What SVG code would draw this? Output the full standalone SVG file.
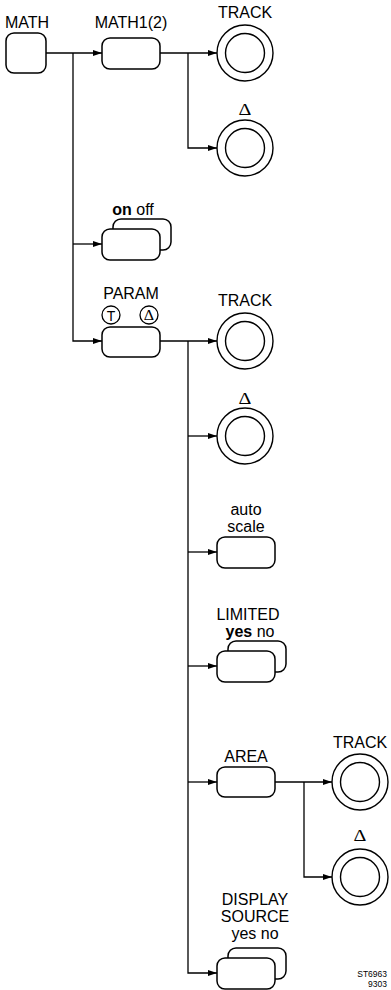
<svg xmlns="http://www.w3.org/2000/svg" width="391" height="990" viewBox="0 0 391 990">
<style>
.box{fill:#fff;stroke:#000;stroke-width:1.5}
.ring{fill:#fff;stroke:#000;stroke-width:1.4}
.con{fill:none;stroke:#000;stroke-width:1.3}
.t{font-family:"Liberation Sans",Arial,sans-serif;font-size:16px;fill:#000;text-anchor:middle}
.b{font-weight:bold}
.d{font-family:"Liberation Serif","Times New Roman",serif;font-size:16px;fill:#000;text-anchor:middle}
.s{font-family:"Liberation Sans",Arial,sans-serif;font-size:8.5px;fill:#000;text-anchor:end}
</style>
<defs>
<marker id="ah" markerUnits="userSpaceOnUse" markerWidth="9" markerHeight="6" refX="9" refY="3" orient="auto">
<path d="M0,0 L9,3 L0,6 z" fill="#000"/>
</marker>
<g id="dbl"><circle r="28" class="ring"/><circle r="19.5" class="ring"/></g>
</defs>
<rect width="391" height="990" fill="#fff"/>

<g id="connectors">
<path class="con" d="M46,53 H102" marker-end="url(#ah)"/>
<path class="con" d="M73,53 V341 H102" marker-end="url(#ah)"/>
<path class="con" d="M73,244 H102" marker-end="url(#ah)"/>
<path class="con" d="M160,53 H217" marker-end="url(#ah)"/>
<path class="con" d="M188,53 V148 H217" marker-end="url(#ah)"/>
<path class="con" d="M160,341 H217" marker-end="url(#ah)"/>
<path class="con" d="M188,341 V973 H217" marker-end="url(#ah)"/>
<path class="con" d="M188,436 H217" marker-end="url(#ah)"/>
<path class="con" d="M188,552 H217" marker-end="url(#ah)"/>
<path class="con" d="M188,666 H217" marker-end="url(#ah)"/>
<path class="con" d="M188,782 H217" marker-end="url(#ah)"/>
<path class="con" d="M275,782 H332" marker-end="url(#ah)"/>
<path class="con" d="M304,782 V877 H332" marker-end="url(#ah)"/>
</g>

<g id="math">
<text class="t" x="27" y="28">MATH</text>
<rect class="box" x="6" y="33" width="40" height="40" rx="8"/>
</g>

<g id="math12">
<text class="t" x="131" y="28">MATH1(2)</text>
<rect class="box" x="102" y="38" width="58" height="31" rx="8"/>
</g>

<g id="track1">
<text class="t" x="245" y="18">TRACK</text>
<use href="#dbl" x="245" y="53"/>
</g>

<g id="delta1">
<text class="d" transform="translate(245,115) scale(1.25,1)">Δ</text>
<use href="#dbl" x="245" y="148"/>
</g>

<g id="onoff">
<text class="t" x="133" y="215"><tspan class="b">on</tspan> off</text>
<rect class="box" x="113" y="219" width="58" height="31" rx="8"/>
<rect class="box" x="102" y="229" width="58" height="31" rx="8"/>
</g>

<g id="param">
<text class="t" x="131" y="299">PARAM</text>
<circle cx="111" cy="315" r="9" fill="#fff" stroke="#000" stroke-width="1.3"/>
<text class="t" x="111" y="320.5" style="font-size:14px">T</text>
<circle cx="149" cy="315" r="9" fill="#fff" stroke="#000" stroke-width="1.3"/>
<text class="d" transform="translate(149,320) scale(1.15,1)" style="font-size:14px">Δ</text>
<rect class="box" x="102" y="327" width="58" height="30" rx="8"/>
</g>

<g id="track2">
<text class="t" x="245" y="306">TRACK</text>
<use href="#dbl" x="245" y="341"/>
</g>

<g id="delta2">
<text class="d" transform="translate(245,404) scale(1.25,1)">Δ</text>
<use href="#dbl" x="245" y="436"/>
</g>

<g id="autoscale">
<text class="t" x="246" y="515">auto</text>
<text class="t" x="246" y="532">scale</text>
<rect class="box" x="217" y="537" width="58" height="31" rx="8"/>
</g>

<g id="limited">
<text class="t" x="248" y="620">LIMITED</text>
<text class="t" x="250" y="637"><tspan class="b">yes</tspan> no</text>
<rect class="box" x="228" y="641" width="58" height="31" rx="8"/>
<rect class="box" x="217" y="651" width="58" height="31" rx="8"/>
</g>

<g id="area">
<text class="t" x="246" y="762">AREA</text>
<rect class="box" x="217" y="767" width="58" height="30" rx="8"/>
</g>

<g id="track3">
<text class="t" x="360" y="748">TRACK</text>
<use href="#dbl" x="360" y="782"/>
</g>

<g id="delta3">
<text class="d" transform="translate(360,841) scale(1.25,1)">Δ</text>
<use href="#dbl" x="360" y="877"/>
</g>

<g id="displaysource">
<text class="t" x="255" y="905">DISPLAY</text>
<text class="t" x="255" y="922">SOURCE</text>
<text class="t" x="255" y="939">yes no</text>
<rect class="box" x="228" y="948" width="58" height="31" rx="8"/>
<rect class="box" x="217" y="958" width="58" height="31" rx="8"/>
</g>

<g id="code">
<text class="s" x="387" y="977">ST6963</text>
<text class="s" x="387" y="987">9303</text>
</g>
</svg>
